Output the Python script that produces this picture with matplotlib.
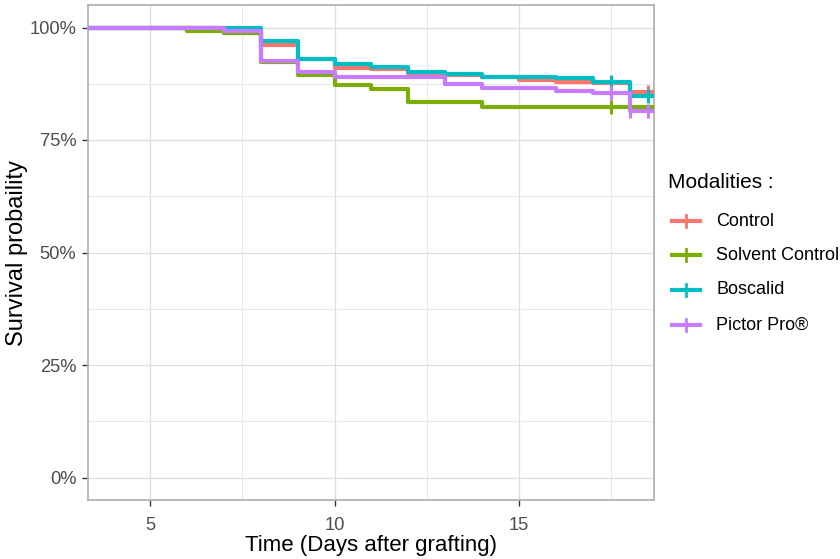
import numpy as np
import matplotlib
matplotlib.use("Agg")
import matplotlib.pyplot as plt
from matplotlib.lines import Line2D

plt.rcParams['font.family'] = ['Liberation Sans', 'DejaVu Sans']

# Kaplan-Meier steps (time in days, survival fraction)
ctrl_t = [0, 7, 8, 9, 10, 11, 12, 13, 14, 15, 16, 17, 18]
ctrl_s = [1.0, 0.987, 0.962, 0.929, 0.911, 0.907, 0.900, 0.895, 0.890, 0.883, 0.880, 0.876, 0.857]
ctrl_cens = [17.5, 18.5]

solv_t = [0, 6, 7, 8, 9, 10, 11, 12, 14]
solv_s = [1.0, 0.992, 0.987, 0.924, 0.894, 0.872, 0.863, 0.835, 0.823]
solv_cens = [17.5]

bosc_t = [0, 8, 9, 10, 11, 12, 13, 14, 16, 17, 18]
bosc_s = [1.0, 0.969, 0.931, 0.918, 0.913, 0.901, 0.896, 0.891, 0.887, 0.878, 0.848]
bosc_cens = [17.5, 18.5]

pict_t = [0, 7, 8, 9, 10, 13, 14, 16, 17, 18]
pict_s = [1.0, 0.992, 0.926, 0.901, 0.889, 0.874, 0.865, 0.859, 0.854, 0.814]
pict_cens = [17.5, 18.0, 18.5]

labels = ["Control", "Solvent Control", "Boscalid", "Pictor Pro®"]
colors = ["#F8766D", "#7CAE00", "#00BFC4", "#C77CFF"]
series = [(ctrl_t, ctrl_s, ctrl_cens), (solv_t, solv_s, solv_cens),
          (bosc_t, bosc_s, bosc_cens), (pict_t, pict_s, pict_cens)]

t_end = 20
W, H = 840, 559

fig = plt.figure(figsize=(8.4, 5.59), dpi=100)
ax = fig.add_axes([87.5 / W, 1 - 500 / H, (654 - 87.5) / W, (500 - 5) / H])

lw = 3.0
for (t, s, cens), col in zip(series, colors):
    tt = list(t) + [t_end]
    ss = list(s) + [s[-1]]
    ax.step(tt, ss, where="post", color=col, lw=lw, solid_capstyle="butt", zorder=3)
    idx = np.searchsorted(t, cens, side="right") - 1
    ax.plot(cens, np.array(s)[idx], ls="none", marker="|", ms=10, mew=2.2,
            color=col, zorder=4)

ax.set_xlim(3.3, 18.66)
ax.set_ylim(-0.05, 1.05)
ax.set_xticks([5, 10, 15])
ax.set_xticks([7.5, 12.5, 17.5], minor=True)
ax.set_yticks([0, 0.25, 0.5, 0.75, 1.0])
ax.set_yticks([0.125, 0.375, 0.625, 0.875], minor=True)
ax.set_yticklabels(["0%", "25%", "50%", "75%", "100%"])

ax.grid(which="major", color="#dedede", lw=0.9, zorder=0)
ax.grid(which="minor", color="#e8e8e8", lw=0.7, zorder=0)
ax.set_axisbelow(True)
for sp in ax.spines.values():
    sp.set_color("#b3b3b3")
    sp.set_linewidth(1.3)
ax.tick_params(which="major", length=4, width=1.0, color="#333333",
               labelsize=13.2, labelcolor="#4d4d4d", pad=4)
ax.tick_params(axis="x", which="major", pad=8)
ax.tick_params(which="minor", length=0)

fig.text(371 / W, 1 - 546 / H, "Time (Days after grafting)", ha="center", va="center",
         fontsize=16)
fig.text(17 / W, 1 - 253 / H, "Survival probaility", ha="center", va="center",
         rotation=90, fontsize=17)

# legend drawn by hand, pixel positions
fig.text(668 / W, 1 - 183 / H, "Modalities :", ha="left", va="center", fontsize=15)
ys = [221, 255, 290, 325]
for lab, col, y in zip(labels, colors, ys):
    fig.add_artist(Line2D([672 / W, 700 / W], [1 - y / H, 1 - y / H],
                          transform=fig.transFigure, color=col, lw=lw))
    fig.add_artist(Line2D([686 / W, 686 / W], [1 - (y - 6) / H, 1 - (y + 6) / H],
                          transform=fig.transFigure, color=col, lw=2.0))
    fig.text(716 / W, 1 - y / H, lab, ha="left", va="center", fontsize=13)

fig.savefig("out.png", dpi=100)
